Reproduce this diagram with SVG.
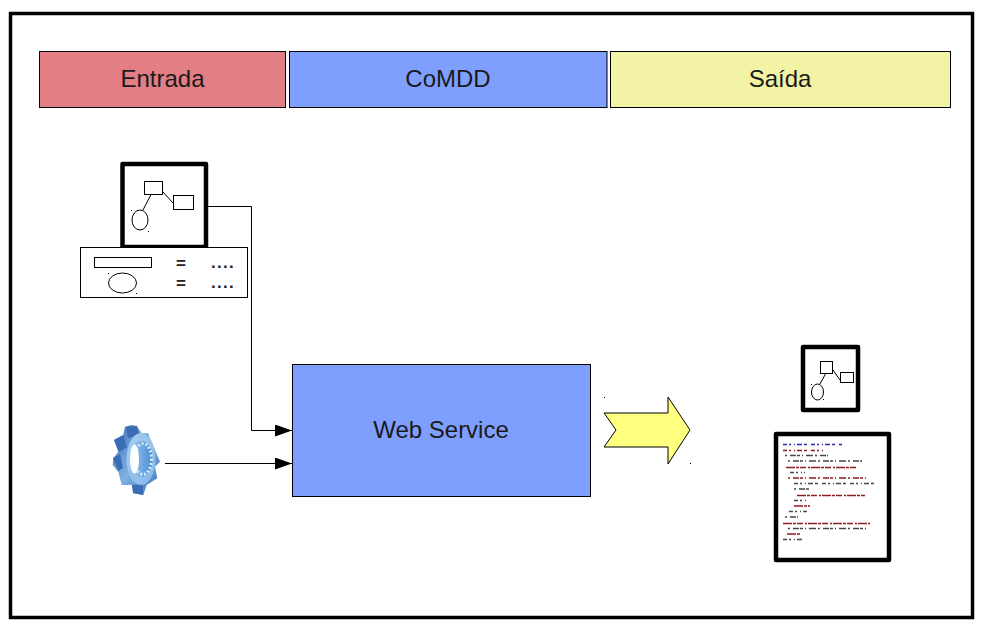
<svg xmlns="http://www.w3.org/2000/svg" width="983" height="631" viewBox="0 0 983 631">
<style>
.t{font-family:"Liberation Sans",Arial,sans-serif;font-size:24px;fill:#1a1a1a;text-anchor:middle}
.box{stroke:#000;stroke-width:1}
.thin{fill:#fff;stroke:#000;stroke-width:1}
.doc{fill:#fff;stroke:#000;stroke-width:4.500;stroke-linejoin:round}
.ln{fill:none;stroke:#000;stroke-width:1}
.eq{font-family:"Liberation Sans",Arial,sans-serif;font-size:17px;font-weight:bold;fill:#222;text-anchor:middle}
.dots{letter-spacing:1.300px}
.code{fill:none;stroke-width:1.500}
.c1{stroke-dasharray:4 2 2 3 1 2 5 2 3 4}
.c2{stroke-dasharray:2 3 6 1 3 2 1 3 7 2}
.c3{stroke-dasharray:9 1 3 1 6 2 2 1}
.b{stroke:#2a2aa8}.r{stroke:#8a1c24}.k{stroke:#444}
.sp{fill:#000}
</style>
<defs>
<marker id="arr" markerUnits="userSpaceOnUse" markerWidth="18" markerHeight="12" refX="17" refY="6" orient="auto"><path d="M0 0L17 6L0 12Z" fill="#000"/></marker>
<linearGradient id="g1" x1="0" y1="0" x2="1" y2="1"><stop offset="0" stop-color="#3a6fb8"/><stop offset=".5" stop-color="#7fb0e2"/><stop offset="1" stop-color="#3f76be"/></linearGradient>
<linearGradient id="g2" x1="0" y1="0" x2="1" y2="1"><stop offset="0" stop-color="#a5cdf0"/><stop offset="1" stop-color="#86b8e8"/></linearGradient>
<linearGradient id="g3" x1="0" y1="0" x2="1" y2="0"><stop offset="0" stop-color="#9cc8ee"/><stop offset=".55" stop-color="#6ea8e0"/><stop offset="1" stop-color="#4c8ad0"/></linearGradient>
<filter id="soft" x="-10%" y="-10%" width="120%" height="120%"><feGaussianBlur stdDeviation="0.400"/></filter>
</defs>
<rect id="frame" x="10.500" y="13.500" width="962" height="604" fill="#fff" stroke="#000" stroke-width="3.500"/>
<g id="header-entrada"><rect class="box" x="39.500" y="51.500" width="246" height="56" fill="#e37e85"/><text class="t" x="162.500" y="87">Entrada</text></g>
<g id="header-comdd"><rect class="box" x="289.500" y="51.500" width="317.500" height="56" fill="#7f9fff"/><text class="t" x="448" y="87">CoMDD</text></g>
<g id="header-saida"><rect class="box" x="610.500" y="51.500" width="340" height="56" fill="#f3f3a5"/><text class="t" x="780" y="87">Saída</text></g>
<g id="connectors">
<path class="ln" d="M208 206.500H251.500V430.500H292" marker-end="url(#arr)"/>
<path class="ln" d="M165 463.500H292" marker-end="url(#arr)"/>
</g>
<g id="input-diagram">
<rect class="doc" x="122.500" y="164" width="83.500" height="83"/>
<rect class="thin" x="144.500" y="181.500" width="18" height="13"/>
<rect class="thin" x="173.500" y="195.500" width="20" height="14"/>
<ellipse class="ln" cx="140" cy="220" rx="8" ry="10"/>
<path class="ln" d="M151 194.500L143 210M163 192L173 203"/>
<rect class="sp" x="131" y="210" width="1" height="1"/><rect class="sp" x="148" y="231" width="1" height="1"/>
</g>
<g id="input-table">
<rect class="thin" x="80.500" y="247.500" width="167" height="50"/>
<rect class="thin" x="94.500" y="257.500" width="57" height="10"/>
<ellipse class="ln" cx="122.500" cy="283" rx="14" ry="10"/>
<rect class="sp" x="108" y="273" width="1" height="1"/><rect class="sp" x="136" y="293" width="1" height="1"/>
<text class="eq" x="181" y="269">=</text><text class="eq" x="181" y="289">=</text>
<text class="eq dots" x="223" y="268">....</text><text class="eq dots" x="223" y="288">....</text>
</g>
<g id="gear" filter="url(#soft)">
<path d="M131.700 425L136.700 426L141.700 433.300L148.300 433.300L150 438.300L155 450L160 461.700L155 466.700L157.300 478.300L146.700 485L143.300 495L133.300 493.300L131.700 485L121.700 485L118.300 471.700L112.700 465L113.300 458.300L118.300 451.700L114 440L123.300 435L125 426.700Z" fill="url(#g1)"/>
<path d="M114 440L123.300 435L127 447L119 452ZM113 458L120 454L123 468L118 471ZM126 427L137 426L139 435L128 438ZM132 485L143 484L143 495L133 493Z" fill="#3b6cb4"/>
<ellipse cx="141" cy="459" rx="14.500" ry="26" fill="url(#g2)"/>
<ellipse cx="141.500" cy="459" rx="11" ry="18" fill="url(#g3)"/>
<ellipse cx="143" cy="459" rx="8.500" ry="15.500" fill="none" stroke="#d4ecfa" stroke-width="3" stroke-dasharray="2 2"/>
<ellipse cx="134.500" cy="459" rx="4.500" ry="14.500" fill="#fff"/>
</g>
<g id="web-service"><rect class="box" x="292.500" y="364.500" width="298" height="132" fill="#7f9fff"/><text class="t" x="441" y="438">Web Service</text></g>
<g id="output-arrow"><path d="M604 413H668V397L690 430L668 464V447H604L616 430Z" fill="#ffff80" stroke="#000" stroke-width="1"/>
<rect class="sp" x="604" y="397" width="1" height="1"/><rect class="sp" x="690" y="463" width="1" height="1"/></g>
<g id="output-diagram">
<rect class="doc" x="803" y="347" width="55" height="63"/>
<rect class="thin" x="820.500" y="361.500" width="12" height="12"/>
<rect class="thin" x="840.500" y="372.500" width="13" height="10"/>
<ellipse class="ln" cx="817.500" cy="392" rx="6" ry="8"/>
<path class="ln" d="M826 373L820 384M833 370L840 380"/>
<rect class="sp" x="811" y="384" width="1" height="1"/><rect class="sp" x="823" y="399" width="1" height="1"/>
</g>
<g id="output-code">
<rect class="doc" x="776" y="434" width="113" height="126"/>
<g filter="url(#soft)">
<path class="code c1 b" d="M783 444.500H842"/>
<path class="code c1 r" d="M783 450.500H825"/>
<path class="code c2 k" d="M785 455.500H828"/>
<path class="code c2 k" d="M788 461H862"/>
<path class="code c3 r" d="M786 467.500H857"/>
<path class="code c1 k" d="M790 472.500H805"/>
<path class="code c2 r" d="M788 478H868"/>
<path class="code c1 k" d="M794 483.500H875"/>
<path class="code c2 k" d="M794 489H810"/>
<path class="code c3 r" d="M797 495.500H865"/>
<path class="code c1 k" d="M794 500.500H807"/>
<path class="code c3 r" d="M794 506H810"/>
<path class="code c1 k" d="M789 511.500H807"/>
<path class="code c2 k" d="M785 517H798"/>
<path class="code c3 r" d="M783 523.500H870"/>
<path class="code c2 k" d="M788 528.500H868"/>
<path class="code c3 r" d="M787 534H801"/>
<path class="code c1 k" d="M783 539.500H803"/>
</g>
</g>
</svg>
